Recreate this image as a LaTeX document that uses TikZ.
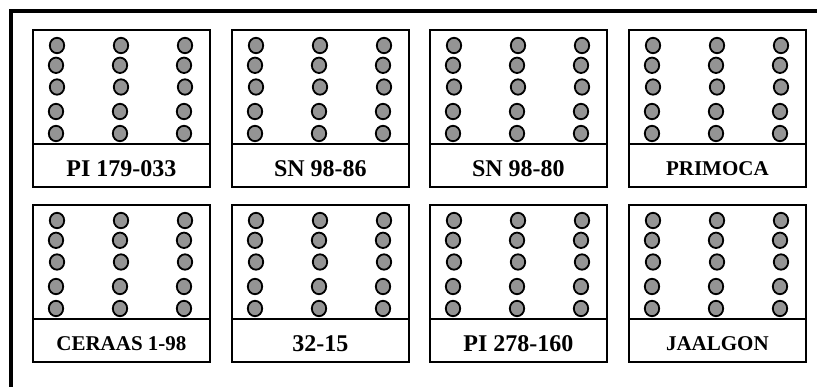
\documentclass[tikz,border=0pt]{standalone}
\usepackage{fontspec}
\setmainfont{Liberation Serif}
\definecolor{seedgray}{gray}{0.58}
\tikzset{
  plotbox/.style={draw, line width=1.8pt, minimum width=177pt, minimum height=157pt,
    anchor=north west, inner sep=0pt},
  divider/.style={line width=1.8pt},
  seed/.style={draw, line width=1.8pt, fill=seedgray},
  tagbig/.style={font=\bfseries\fontsize{24}{24}\selectfont, inner sep=0pt},
  tagsmall/.style={font=\bfseries\fontsize{21}{21}\selectfont, inner sep=0pt},
  frame/.style={line width=4.5pt, line join=miter}
}
% one plot: #1 name, #2 left, #3 top, #4 label, #5 label style
\newcommand\fieldplot[5]{%
  \node[plotbox] (#1) at (#2,#3) {};
  \foreach \cx in {24,88,152}{%
    \foreach \cy/\dx in {16.5/1,36.3/0,58/1,82.5/0,104.5/0}{%
      \draw[seed] (#2+\cx+\dx,#3+\cy) ellipse[x radius=7.2pt, y radius=7.7pt];
    }%
  }%
  \draw[divider] ([yshift=-115pt]#1.north west) -- ([yshift=-115pt]#1.north east);
  \node[#5] (#1-tag) at ([yshift=-140pt]#1.north) {#4};
}
\begin{document}
\begin{tikzpicture}[x=1pt,y=-1pt]
\useasboundingbox (0,0) rectangle (817,387);
\fill[white] (0,0) rectangle (817,387);
% outer frame: top and left edges only
\coordinate (fbl) at (11,387);
\coordinate (ftl) at (11,11);
\coordinate (ftr) at (817,11);
\draw[frame] (fbl) -- (ftl) -- (ftr);
% first row
\fieldplot{p1}{32}{29}{PI 179-033}{tagbig}
\fieldplot{p2}{231}{29}{SN 98-86}{tagbig}
\fieldplot{p3}{429}{29}{SN 98-80}{tagbig}
\fieldplot{p4}{628}{29}{PRIMOCA}{tagsmall}
% second row
\fieldplot{p5}{32}{204}{CERAAS 1-98}{tagsmall}
\fieldplot{p6}{231}{204}{32-15}{tagbig}
\fieldplot{p7}{429}{204}{PI 278-160}{tagbig}
\fieldplot{p8}{628}{204}{JAALGON}{tagsmall}
\end{tikzpicture}
\end{document}
